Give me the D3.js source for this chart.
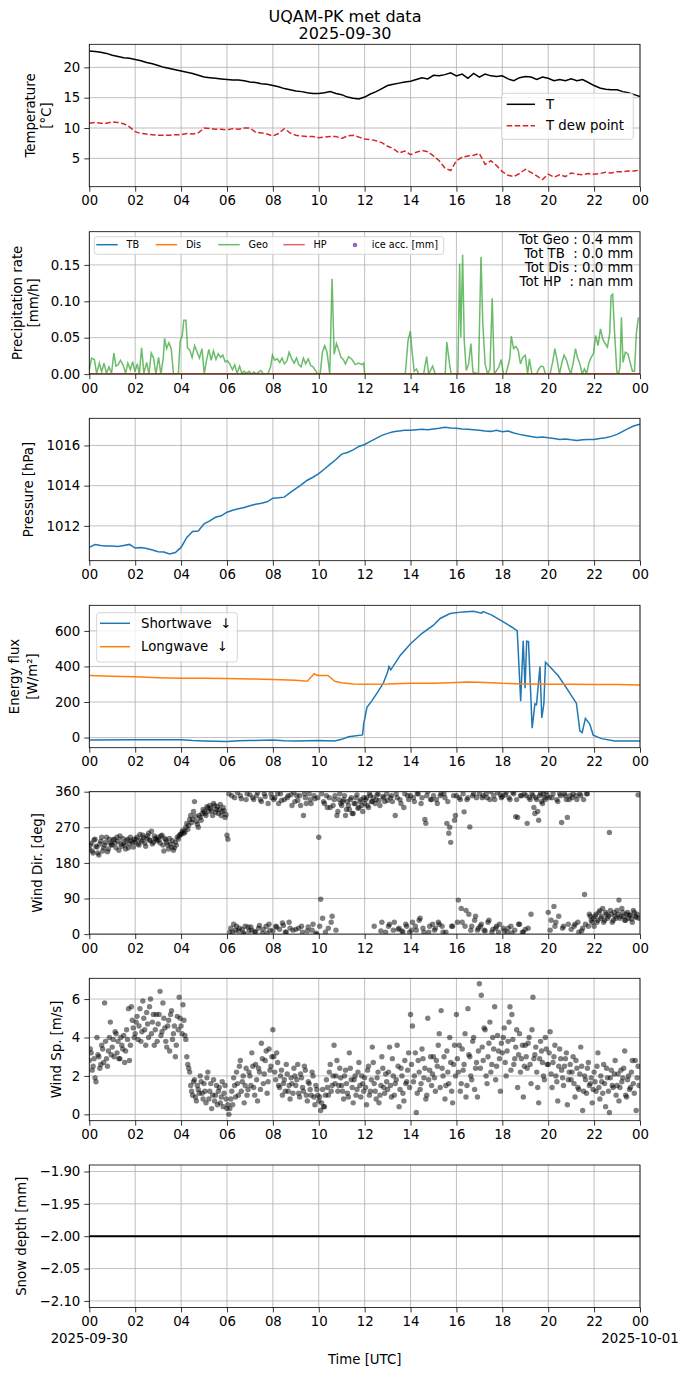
<!DOCTYPE html>
<html>
<head>
<meta charset="utf-8">
<script src="https://cdn.jsdelivr.net/npm/d3@7"></script>
<style>
body{margin:0;background:#fff;}
text{font-family:"DejaVu Sans",sans-serif;}
</style>
</head>
<body>
<div id="fig"></div>
<script>
// ---- data ----
// temperature & dew point, every 15 min from 00 to 24 UTC
var tempT = [22.7,22.6,22.5,22.3, 22.0,21.8,21.6,21.5, 21.3,21.1,20.8,20.6, 20.3,20.0,19.8,19.6,
  19.4,19.2,19.0,18.7, 18.4,18.3,18.2,18.1, 18.0,17.9,17.9,17.8, 17.6,17.5,17.3,17.2,
  17.0,16.8,16.5,16.3, 16.1,16.0,15.8,15.7, 15.7,15.8,16.0,15.7, 15.5,15.1,14.9,14.8,
  15.1,15.6,16.0,16.5, 17.0,17.2,17.4,17.6, 17.7,18.0,18.3,18.1, 18.7,18.6,18.8,19.1,
  18.6,18.9,18.2,19.0, 18.4,18.9,18.6,18.5, 18.6,18.1,17.8,18.3, 18.5,18.4,18.0,18.4,
  18.2,17.8,18.0,17.8, 18.1,17.8,18.0,17.5, 17.0,16.6,16.4,16.3, 16.3,16.0,15.8,15.5, 15.2];
var tempTd = [10.8,10.9,10.8,10.8, 11.0,10.9,10.7,10.2, 9.4,9.1,9.0,8.9, 8.8,8.8,8.8,8.9,
  8.9,9.1,9.0,9.2, 10.0,9.9,9.8,9.8, 9.7,9.9,9.8,10.0, 10.0,9.3,9.2,9.0,
  8.7,9.1,9.9,9.2, 8.8,8.7,8.6,8.6, 8.4,8.5,8.6,8.6, 8.3,8.7,8.8,8.5,
  8.2,8.1,7.9,7.6, 7.0,6.6,5.9,6.2, 5.6,6.0,6.3,6.1, 5.4,4.6,3.4,3.0,
  4.6,5.2,5.4,5.5, 5.8,4.0,4.6,3.8, 2.8,2.2,2.0,2.5, 3.2,2.7,2.1,1.5,
  2.4,1.9,2.3,2.0, 2.6,2.4,2.3,2.5, 2.4,2.5,2.7,2.6, 2.8,2.8,2.9,2.9, 3.1];

// precipitation rate [hour, mm/h]
var precipGeo = [[0,0.006],[0.1,0.022],[0.22,0.020],[0.32,0.001],[0.44,0.015],[0.54,0.003],[0.64,0.015],[0.75,0.001],
  [0.86,0.010],[0.97,0.001],[1.07,0.029],[1.16,0.011],[1.26,0.013],[1.36,0.019],[1.48,0.012],[1.58,0.001],[1.68,0.015],
  [1.79,0.006],[1.89,0.017],[1.99,0.003],[2.09,0.014],[2.18,0],[2.28,0.036],[2.38,0.001],[2.5,0.016],[2.6,0],
  [2.7,0.029],[2.8,0.022],[2.9,0],[3.02,0.023],[3.12,0],[3.22,0.021],[3.28,0.049],[3.37,0.035],[3.47,0.043],
  [3.57,0.035],[3.67,0],[3.88,0],[3.96,0.045],[4.05,0.053],[4.12,0.074],[4.21,0.074],[4.28,0.036],[4.38,0.033],
  [4.48,0.023],[4.59,0.039],[4.7,0.030],[4.8,0.022],[4.91,0.035],[5.01,0],[5.09,0.016],[5.21,0.034],[5.31,0.019],
  [5.41,0.032],[5.52,0.020],[5.62,0.028],[5.72,0.023],[5.82,0.026],[5.92,0.017],[6.02,0.018],[6.12,0.014],
  [6.24,0.006],[6.34,0.013],[6.44,0.001],[6.55,0.011],[6.65,0.001],[6.75,0.004],[6.85,0.001],[6.97,0.004],
  [7.07,0],[7.17,0.003],[7.27,0],[7.47,0.005],[7.58,0.001],[7.68,0],[7.78,0],[7.9,0.010],[7.98,0.026],[8.08,0.019],
  [8.19,0.021],[8.3,0.016],[8.4,0.022],[8.5,0.014],[8.61,0.018],[8.71,0.030],[8.82,0.021],[8.93,0.015],[9.03,0.022],
  [9.13,0.013],[9.23,0.010],[9.33,0.022],[9.43,0.014],[9.54,0.021],[9.64,0.012],[9.75,0.010],[9.85,0.005],
  [9.96,0],[10.06,0],[10.16,0.030],[10.26,0.039],[10.36,0.030],[10.48,0],[10.58,0.131],[10.67,0.027],[10.77,0.042],
  [10.87,0.033],[10.97,0.023],[11.07,0.020],[11.16,0.014],[11.3,0.024],[11.45,0.020],[11.59,0.013],[11.74,0.015],
  [11.88,0.013],[11.96,0.015],[12.0,0],[13.77,0],[13.89,0.046],[13.99,0.059],[14.06,0.033],[14.16,0.004],
  [14.26,0.007],[14.36,0],[14.57,0],[14.7,0.024],[14.79,0],[14.96,0.011],[15.08,0],[15.51,0],[15.58,0.044],
  [15.69,0.016],[15.77,0],[16.06,0],[16.14,0.152],[16.19,0.051],[16.27,0.164],[16.34,0.046],[16.43,0.005],
  [16.53,0.014],[16.63,0.042],[16.72,0.003],[16.96,0],[17.07,0.161],[17.15,0.069],[17.25,0.014],[17.36,0],
  [17.46,0.007],[17.56,0.104],[17.65,0],[17.85,0.010],[17.95,0.020],[18.05,0],[18.15,0],[18.24,0.010],
  [18.33,0.023],[18.39,0.052],[18.49,0.035],[18.59,0.038],[18.69,0.033],[18.79,0.014],[18.89,0.023],[19.0,0.026],
  [19.1,0],[19.18,0.021],[19.29,0],[19.49,0],[19.59,0.007],[19.69,0.011],[19.79,0.010],[19.88,0],[20.08,0],
  [20.19,0.016],[20.29,0.035],[20.39,0.019],[20.49,0],[20.59,0.015],[20.69,0.026],[20.8,0.019],[20.88,0.010],
  [20.98,0],[21.08,0.014],[21.19,0.035],[21.27,0.023],[21.38,0.014],[21.48,0],[21.58,0.007],[21.67,0],
  [21.77,0.015],[21.87,0.023],[21.97,0.028],[22.07,0.053],[22.17,0.039],[22.28,0.062],[22.38,0.048],[22.48,0.042],
  [22.58,0.037],[22.68,0.056],[22.74,0.108],[22.81,0.110],[22.88,0.064],[22.99,0.003],[23.06,0],[23.13,0.010],
  [23.19,0.078],[23.26,0.016],[23.36,0.030],[23.47,0.028],[23.57,0.016],[23.67,0.004],[23.76,0.004],[23.84,0.055],
  [23.93,0.078]];
var precipTB  = [[0,0],[24,0]];
var precipDis = [[0,0],[24,0]];
var precipHP  = [[0,0],[24,0]];
var precipTotals = ["Tot Geo : 0.4 mm", "Tot TB  : 0.0 mm", "Tot Dis : 0.0 mm", "Tot HP  : nan mm"];

// pressure, every 15 min
var pressure = [1010.93,1011.07,1011.03,1011.0, 1011.0,1010.98,1011.03,1011.08, 1010.9,1010.92,1010.88,1010.8,
  1010.72,1010.7,1010.6,1010.68, 1010.93,1011.43,1011.72,1011.75, 1012.1,1012.25,1012.43,1012.5,
  1012.68,1012.78,1012.85,1012.92, 1013.0,1013.08,1013.13,1013.2, 1013.38,1013.4,1013.43,1013.65,
  1013.85,1014.05,1014.27,1014.42, 1014.6,1014.83,1015.07,1015.3, 1015.57,1015.65,1015.78,1015.95,
  1016.05,1016.2,1016.35,1016.5, 1016.6,1016.68,1016.72,1016.75, 1016.75,1016.78,1016.8,1016.78,
  1016.82,1016.85,1016.9,1016.87, 1016.85,1016.82,1016.8,1016.78, 1016.75,1016.72,1016.7,1016.75,
  1016.68,1016.72,1016.62,1016.55, 1016.5,1016.45,1016.4,1016.42, 1016.38,1016.35,1016.3,1016.32,
  1016.28,1016.25,1016.28,1016.3, 1016.3,1016.35,1016.38,1016.45, 1016.55,1016.7,1016.85,1016.98, 1017.05];

// radiation [hour, W/m2]
var shortwave = [[0,-13],[2,-12],[4,-12],[4.5,-17],[5,-19],[6,-22],[6.5,-18],[7,-17],[8,-14],[8.5,-18],[9,-19],
  [10,-17],[10.7,-19],[11,-10],[11.3,5],[11.91,15],[11.96,80],[12.0,104],[12.1,170],[12.32,208],[12.61,264],
  [12.83,311],[13.0,368],[13.06,400],[13.14,381],[13.55,462],[14.0,528],[14.49,585],[15.0,632],[15.29,670],
  [15.72,698],[16.3,707],[16.74,710],[17.1,700],[17.17,709],[17.54,689],[17.97,656],[18.41,622],[18.65,600],
  [18.8,204],[18.91,545],[18.99,277],[19.06,542],[19.14,540],[19.3,53],[19.42,189],[19.49,185],[19.64,400],
  [19.72,110],[19.81,189],[19.88,424],[20.0,408],[20.43,349],[20.87,264],[21.23,192],[21.38,38],[21.48,28],
  [21.62,108],[21.81,76],[21.96,14],[22.32,-6],[22.9,-19],[23.91,-19],[24,-19]];
var longwave = [[0,349],[1,345],[2,342],[3,337],[4,334],[5,333],[6,332],[7,330],[8,327],[9,322],[9.5,317],
  [9.8,359],[9.95,349],[10.4,349],[10.7,317],[11,308],[11.5,302],[12,300],[13,301],[14,305],[15,306],[16,310],
  [16.5,313],[17,311],[18,305],[19,302],[20,300],[21,300],[22,299],[23,298],[24,296]];

// wind, every 5 min (12 per hour) and a second set 2.5 min later
var windDir = [215,230,205,240,220,200,235,210,225,245,215,230,
  225,240,218,235,248,222,230,215,240,228,236,220,
  232,245,225,238,250,230,242,255,236,228,248,240,
  245,230,250,210,238,225,242,220,212,232,245,248,
  252,262,258,280,275,300,290,335,285,270,295,305,
  310,300,318,325,312,330,308,322,315,300,320,295,
  250,355,15,5,345,20,8,350,12,0,340,18,
  352,10,340,5,358,22,335,12,348,2,25,355,
  8,345,18,330,355,28,340,5,350,15,325,358,
  12,338,350,20,300,345,8,355,330,25,342,0,
  245,88,40,330,350,15,320,45,340,10,310,355,
  325,340,300,335,315,345,305,330,352,320,340,310,
  330,345,320,350,335,20,340,355,325,30,345,5,
  338,25,350,10,300,345,15,330,5,355,20,340,
  350,30,335,10,355,40,345,5,280,360,20,340,
  350,15,330,25,355,5,345,280,255,232,20,288,
  350,86,340,30,309,60,345,271,20,355,45,10,
  355,25,350,8,345,35,360,12,340,20,5,352,
  348,8,358,15,340,3,355,297,295,25,350,5,
  12,280,345,50,350,305,340,288,355,330,345,360,
  55,10,345,70,30,335,355,282,20,350,295,340,
  12,355,25,340,5,350,15,100,355,20,45,30,
  20,50,35,60,45,30,55,40,257,50,35,45,
  60,86,45,55,35,50,40,48,30,55,42,352];
var windDirB = [225,210,238,222,205,228,245,218,232,208,240,226,
  238,230,245,212,228,242,225,236,218,245,232,240,
  240,228,252,235,244,222,248,238,260,232,242,236,
  238,248,225,242,232,215,228,236,218,225,240,252,
  258,255,270,265,290,282,310,298,278,300,288,315,
  305,322,310,318,300,325,315,305,328,310,312,302,
  240,5,350,25,10,358,15,342,3,20,355,8,
  18,345,6,350,15,340,2,355,20,330,10,345,
  340,20,355,12,338,22,5,345,30,352,10,335,
  350,15,325,5,355,330,18,340,10,350,2,345,
  20,355,335,5,320,345,30,325,350,300,340,330,
  335,350,315,325,340,305,330,345,318,335,325,345,
  340,325,355,335,345,330,352,338,8,348,335,355,
  20,345,335,30,355,12,340,8,320,25,350,5,
  10,345,20,355,35,330,15,290,350,5,340,25,
  10,340,30,350,20,355,5,335,270,20,350,300,
  30,345,65,355,20,340,50,10,350,35,345,15,
  20,345,10,355,30,340,5,350,15,358,25,345,
  15,352,5,345,20,358,10,340,25,350,5,355,
  350,15,340,355,320,345,310,350,335,355,340,350,
  345,35,355,20,340,45,350,15,355,340,25,350,
  345,20,350,30,355,8,340,25,355,50,35,40,
  45,30,55,40,65,35,50,45,60,30,55,40,
  50,40,65,45,35,55,48,38,60,45,50,40];
var windSpeed = [2.8,3.2,2.5,1.9,4.0,3.0,2.6,3.4,5.8,2.9,3.3,4.8,
  3.5,3.0,4.2,3.8,2.9,3.6,4.1,3.3,3.9,2.8,5.6,4.5,
  4.2,5.1,4.6,3.8,5.9,4.4,5.3,4.0,6.0,4.8,3.6,5.2,
  4.7,6.4,4.3,5.0,3.8,4.6,3.3,5.4,4.2,3.0,5.1,6.1,
  4.6,5.7,4.1,3.0,2.4,1.5,1.0,1.8,0.7,1.3,2.0,1.1,
  1.6,0.6,2.2,1.2,0.3,1.8,1.0,0.5,1.4,0.9,0.4,1.5,
  0.3,0.0,0.8,0.5,1.5,2.2,1.0,2.8,1.7,0.6,2.4,1.3,
  2.0,3.2,1.4,2.6,0.7,2.2,3.7,1.6,2.8,1.1,3.4,2.5,
  4.4,2.2,3.2,1.5,2.0,1.0,1.8,2.6,1.2,0.8,1.6,2.4,
  1.5,2.6,0.9,1.9,1.2,2.3,0.7,1.6,1.0,2.0,0.5,1.3,
  0.7,0.2,1.3,0.4,1.8,1.0,2.6,1.5,3.6,2.0,1.2,2.4,
  1.5,0.8,2.3,1.1,3.2,1.8,0.6,2.0,1.3,2.7,0.9,1.6,
  1.9,0.5,2.5,1.2,3.5,1.6,0.8,2.2,1.0,3.0,1.4,2.1,
  1.3,3.5,0.9,2.0,1.6,3.6,0.4,2.4,1.1,2.8,1.7,3.2,
  5.2,4.6,2.0,0.1,2.8,1.3,3.4,1.9,0.8,5.0,2.3,1.5,
  3.0,1.2,2.5,4.2,5.4,2.0,0.8,3.3,1.6,2.7,0.6,3.6,
  5.2,2.2,1.2,3.4,2.6,0.9,5.5,3.0,1.8,4.0,2.4,0.9,
  6.8,6.2,2.8,4.4,1.6,3.7,2.2,4.0,5.6,2.5,3.3,1.2,
  3.2,4.5,2.0,3.8,5.6,5.2,2.6,3.5,1.4,4.2,2.9,0.9,
  3.6,2.4,4.0,1.6,6.1,3.1,2.2,0.6,3.8,2.7,1.8,3.4,
  2.6,4.3,1.4,3.0,2.0,0.7,3.4,2.3,1.5,2.9,0.5,2.2,
  1.8,3.0,0.9,2.4,1.3,3.5,0.2,2.0,1.1,2.7,1.6,0.6,
  2.2,1.2,3.2,0.8,1.7,2.6,0.4,1.9,0.1,2.3,1.4,2.8,
  1.5,0.7,2.3,1.9,3.3,0.9,2.0,1.4,2.8,1.1,0.2,2.5];
var windSpeedB = [3.4,2.3,2.9,1.7,3.1,2.4,3.6,2.7,3.8,2.5,4.0,3.1,
  3.9,4.3,3.2,2.9,4.0,3.4,2.7,4.4,5.5,3.6,4.9,4.0,
  4.8,3.9,5.5,4.3,5.0,3.6,4.7,5.6,4.2,5.2,4.4,3.8,
  5.2,4.1,5.8,4.5,3.5,4.9,5.2,3.9,4.6,3.6,4.4,5.0,
  4.2,4.9,3.9,2.6,2.2,1.2,1.7,0.9,1.5,1.1,1.7,0.8,
  1.2,1.9,0.8,1.6,1.0,0.7,1.5,1.2,0.6,1.7,1.1,0.8,
  0.5,0.3,1.2,1.9,0.9,1.6,2.5,1.2,2.0,1.5,1.0,2.2,
  1.5,2.5,1.0,1.8,2.4,1.3,2.9,2.1,3.3,1.7,2.3,3.0,
  3.0,1.8,2.7,1.4,2.3,1.6,1.2,2.1,1.5,1.9,1.1,2.0,
  1.8,1.1,2.1,1.4,2.5,1.0,1.7,1.3,2.2,0.9,1.5,1.0,
  0.9,0.6,0.4,1.0,1.4,2.2,1.2,2.0,1.6,2.8,1.5,1.9,
  1.2,2.0,1.6,0.9,2.4,1.4,1.8,1.0,2.2,1.5,2.0,1.2,
  1.4,2.3,1.0,1.8,2.7,1.2,1.9,0.6,1.5,2.4,1.1,1.7,
  2.2,1.5,2.9,1.0,1.8,2.5,1.3,2.0,0.7,1.6,2.3,1.4,
  2.6,1.7,3.2,1.1,2.2,1.6,2.9,2.4,1.0,1.8,3.0,2.1,
  1.9,2.8,3.6,1.4,2.4,3.0,1.5,2.2,4.0,1.2,2.6,2.0,
  2.9,3.6,1.6,2.3,4.2,1.5,3.1,2.0,3.8,1.3,2.7,3.3,
  2.4,3.5,4.5,2.0,3.0,4.8,2.6,3.4,1.8,4.1,2.9,3.7,
  4.0,2.7,3.3,4.8,2.3,3.9,2.9,4.4,3.1,2.2,3.6,2.5,
  3.0,3.7,2.6,4.4,2.9,3.5,1.4,2.9,3.3,2.0,4.0,2.6,
  3.2,2.1,2.7,3.6,1.7,2.5,2.9,1.9,2.5,3.2,1.8,2.6,
  2.2,1.6,2.8,1.4,2.1,2.5,1.2,1.8,2.4,1.5,1.9,1.3,
  1.7,2.5,1.4,2.0,1.1,1.6,2.4,1.2,1.9,1.5,2.1,1.0,
  2.1,1.4,1.7,2.4,1.0,1.8,1.3,2.2,1.6,2.8,1.9,1.5];

// snow depth, hourly
var snowDepth = [-2,-2,-2,-2,-2,-2,-2,-2,-2,-2,-2,-2,-2,-2,-2,-2,-2,-2,-2,-2,-2,-2,-2,-2,-2];

// ---- figure ----
var W = 690, H = 1377;
var LEFT = 89.3, RIGHT = 640, PH = 142.4;
var tops = [44.3, 231.7, 418.3, 605.3, 791.7, 978.3, 1165];
var FS = "13.3px";

var svg = d3.select("#fig").append("svg").attr("width", W).attr("height", H);

var t0 = Date.UTC(2025, 8, 30), t1 = Date.UTC(2025, 9, 1);
var x = d3.scaleUtc().domain([new Date(t0), new Date(t1)]).range([LEFT, RIGHT]);
function hd(h){ return new Date(t0 + h * 3600e3); }
var xticks = x.ticks(d3.utcHour.every(2));

svg.append("text").attr("x", 345).attr("y", 22).attr("text-anchor", "middle")
	.style("font-size", "16px").text("UQAM-PK met data");
svg.append("text").attr("x", 345).attr("y", 39).attr("text-anchor", "middle")
	.style("font-size", "16px").text("2025-09-30");

function panel(i, domain, ticks, fmt){
	var top = tops[i], bot = top + PH;
	var y = d3.scaleLinear().domain(domain).range([bot, top]);
	var g = svg.append("g");
	g.append("clipPath").attr("id", "clip" + i).append("rect")
		.attr("x", LEFT).attr("y", top).attr("width", RIGHT - LEFT).attr("height", PH);

	g.append("g").selectAll("line").data(xticks).join("line")
		.attr("x1", d => x(d)).attr("x2", d => x(d)).attr("y1", top).attr("y2", bot)
		.attr("stroke", "#b0b0b0").attr("stroke-width", 0.8);
	g.append("g").selectAll("line").data(ticks).join("line")
		.attr("x1", LEFT).attr("x2", RIGHT).attr("y1", d => y(d)).attr("y2", d => y(d))
		.attr("stroke", "#b0b0b0").attr("stroke-width", 0.8);

	var plot = g.append("g").attr("clip-path", "url(#clip" + i + ")");

	var xa = g.append("g").attr("transform", "translate(0," + bot + ")")
		.call(d3.axisBottom(x).tickValues(xticks).tickFormat(d3.utcFormat("%H")).tickSize(5).tickPadding(4));
	var ya = g.append("g").attr("transform", "translate(" + LEFT + ",0)")
		.call(d3.axisLeft(y).tickValues(ticks).tickFormat(fmt).tickSize(5).tickPadding(4));
	[xa, ya].forEach(function(a){
		a.select(".domain").remove();
		a.attr("font-size", null).attr("font-family", null);
		a.selectAll("text").style("font-size", FS).attr("fill", "#000");
		a.selectAll("line").attr("stroke", "#000").attr("stroke-width", 0.8);
	});

	g.append("rect").attr("x", LEFT).attr("y", top).attr("width", RIGHT - LEFT).attr("height", PH)
		.attr("fill", "none").attr("stroke", "#000").attr("stroke-width", 0.8);
	return {y: y, plot: plot, g: g, top: top, bot: bot};
}

function ylabel(i, lines){
	var yc = tops[i] + PH / 2;
	lines.forEach(function(l){
		svg.append("text").attr("transform", "translate(" + l[1] + "," + yc + ") rotate(-90)")
			.attr("text-anchor", "middle").style("font-size", FS).text(l[0]);
	});
}

function lineOf(y){
	return d3.line().x(d => x(hd(d[0]))).y(d => y(d[1]));
}
function quarter(arr){ return arr.map((v, k) => [k * 0.25, v]); }
function fiveMin(arr, off){ return arr.map((v, k) => [k / 12 + (off || 0), v]); }

function legendBox(g, x0, y0, w, h){
	g.append("rect").attr("x", x0).attr("y", y0).attr("width", w).attr("height", h).attr("rx", 2.5)
		.attr("fill", "#fff").attr("fill-opacity", 0.8).attr("stroke", "#cccccc").attr("stroke-width", 0.8);
}

function scatter(p, a, b){
	p.plot.append("g").selectAll("circle").data(fiveMin(a).concat(fiveMin(b, 1 / 24))).join("circle")
		.attr("cx", d => x(hd(d[0]))).attr("cy", d => p.y(d[1])).attr("r", 2.7)
		.attr("fill", "#000").attr("fill-opacity", 0.5);
}

// 1. temperature
var p1 = panel(0, [0.33, 23.8], [5, 10, 15, 20], d3.format("d"));
p1.plot.append("path").datum(quarter(tempT)).attr("d", lineOf(p1.y))
	.attr("fill", "none").attr("stroke", "#000").attr("stroke-width", 1.5);
p1.plot.append("path").datum(quarter(tempTd)).attr("d", lineOf(p1.y))
	.attr("fill", "none").attr("stroke", "#d62728").attr("stroke-width", 1.5).attr("stroke-dasharray", "5.5,2.5");
ylabel(0, [["Temperature", 35], ["[°C]", 51]]);
legendBox(p1.g, 501.7, 93.3, 131.6, 46);
p1.g.append("line").attr("x1", 506.7).attr("x2", 535).attr("y1", 104.3).attr("y2", 104.3)
	.attr("stroke", "#000").attr("stroke-width", 1.5);
p1.g.append("text").attr("x", 546).attr("y", 109).style("font-size", FS).text("T");
p1.g.append("line").attr("x1", 506.7).attr("x2", 535).attr("y1", 125.7).attr("y2", 125.7)
	.attr("stroke", "#d62728").attr("stroke-width", 1.5).attr("stroke-dasharray", "5.5,2.5");
p1.g.append("text").attr("x", 546).attr("y", 130.4).style("font-size", FS).text("T dew point");

// 2. precipitation
var p2 = panel(1, [0, 0.1956], [0, 0.05, 0.10, 0.15], d3.format(".2f"));
p2.plot.append("path").datum(precipTB).attr("d", lineOf(p2.y)).attr("fill", "none").attr("stroke", "#1f77b4").attr("stroke-width", 1.5);
p2.plot.append("path").datum(precipDis).attr("d", lineOf(p2.y)).attr("fill", "none").attr("stroke", "#ff7f0e").attr("stroke-width", 1.5);
p2.plot.append("path").datum(precipGeo).attr("d", lineOf(p2.y)).attr("fill", "none").attr("stroke", "#2ca02c")
	.attr("stroke-opacity", 0.7).attr("stroke-width", 1.5);
p2.plot.append("path").datum(precipHP).attr("d", lineOf(p2.y)).attr("fill", "none").attr("stroke", "#d62728")
	.attr("stroke-opacity", 0.7).attr("stroke-width", 1.5);
ylabel(1, [["Precipitation rate", 22], ["[mm/h]", 38]]);
legendBox(p2.g, 94.3, 236.7, 349.4, 17.6);
var pLeg = [["TB", "#1f77b4", 1, 96.3], ["Dis", "#ff7f0e", 1, 155.7], ["Geo", "#2ca02c", 0.7, 218.3], ["HP", "#d62728", 0.7, 283.3]];
pLeg.forEach(function(e){
	p2.g.append("line").attr("x1", e[3]).attr("x2", e[3] + 21.4).attr("y1", 244.7).attr("y2", 244.7)
		.attr("stroke", e[1]).attr("stroke-opacity", e[2]).attr("stroke-width", 1.5);
	p2.g.append("text").attr("x", e[3] + 30.2).attr("y", 248.4).style("font-size", "9.7px").text(e[0]);
});
p2.g.append("circle").attr("cx", 355).attr("cy", 245).attr("r", 2.3).attr("fill", "#9467bd");
p2.g.append("text").attr("x", 371.7).attr("y", 248.4).style("font-size", "9.7px").text("ice acc. [mm]");
precipTotals.forEach(function(s, k){
	p2.g.append("text").attr("x", 633.3).attr("y", 244 + k * 14).attr("text-anchor", "end")
		.style("font-size", FS).style("white-space", "pre").text(s);
});

// 3. pressure
var p3 = panel(2, [1010.27, 1017.35], [1012, 1014, 1016], d3.format("d"));
p3.plot.append("path").datum(quarter(pressure)).attr("d", lineOf(p3.y))
	.attr("fill", "none").attr("stroke", "#1f77b4").attr("stroke-width", 1.5);
ylabel(2, [["Pressure [hPa]", 33]]);

// 4. energy flux
var p4 = panel(3, [-57, 744], [0, 200, 400, 600], d3.format("d"));
p4.plot.append("path").datum(shortwave).attr("d", lineOf(p4.y))
	.attr("fill", "none").attr("stroke", "#1f77b4").attr("stroke-width", 1.5);
p4.plot.append("path").datum(longwave).attr("d", lineOf(p4.y))
	.attr("fill", "none").attr("stroke", "#ff7f0e").attr("stroke-width", 1.5);
ylabel(3, [["Energy flux", 19], ["[W/m²]", 37]]);
legendBox(p4.g, 96.7, 612.7, 140.6, 49.3);
[["Shortwave  ↓", "#1f77b4", 623.3], ["Longwave  ↓", "#ff7f0e", 646.7]].forEach(function(e){
	p4.g.append("line").attr("x1", 100).attr("x2", 130).attr("y1", e[2]).attr("y2", e[2])
		.attr("stroke", e[1]).attr("stroke-width", 1.5);
	p4.g.append("text").attr("x", 141).attr("y", e[2] + 4.7).style("font-size", FS)
		.style("white-space", "pre").text(e[0]);
});

// 5. wind direction
var p5 = panel(4, [0, 360], [0, 90, 180, 270, 360], d3.format("d"));
scatter(p5, windDir, windDirB);
ylabel(4, [["Wind Dir. [deg]", 42]]);

// 6. wind speed
var p6 = panel(5, [-0.33, 7.08], [0, 2, 4, 6], d3.format("d"));
scatter(p6, windSpeed, windSpeedB);
ylabel(5, [["Wind Sp. [m/s]", 60.5]]);

// 7. snow depth
var p7 = panel(6, [-2.11, -1.89], [-2.10, -2.05, -2.00, -1.95, -1.90], d => d3.format(".2f")(d).replace("-", "\u2212"));
p7.plot.append("path").datum(snowDepth.map((v, k) => [k, v])).attr("d", lineOf(p7.y))
	.attr("fill", "none").attr("stroke", "#000").attr("stroke-width", 2);
ylabel(6, [["Snow depth [mm]", 26]]);
svg.append("text").attr("x", x(new Date(t0))).attr("y", 1343).attr("text-anchor", "middle")
	.style("font-size", FS).text("2025-09-30");
svg.append("text").attr("x", x(new Date(t1))).attr("y", 1343).attr("text-anchor", "middle")
	.style("font-size", FS).text("2025-10-01");
svg.append("text").attr("x", (LEFT + RIGHT) / 2).attr("y", 1364).attr("text-anchor", "middle")
	.style("font-size", FS).text("Time [UTC]");
</script>
</body>
</html>
